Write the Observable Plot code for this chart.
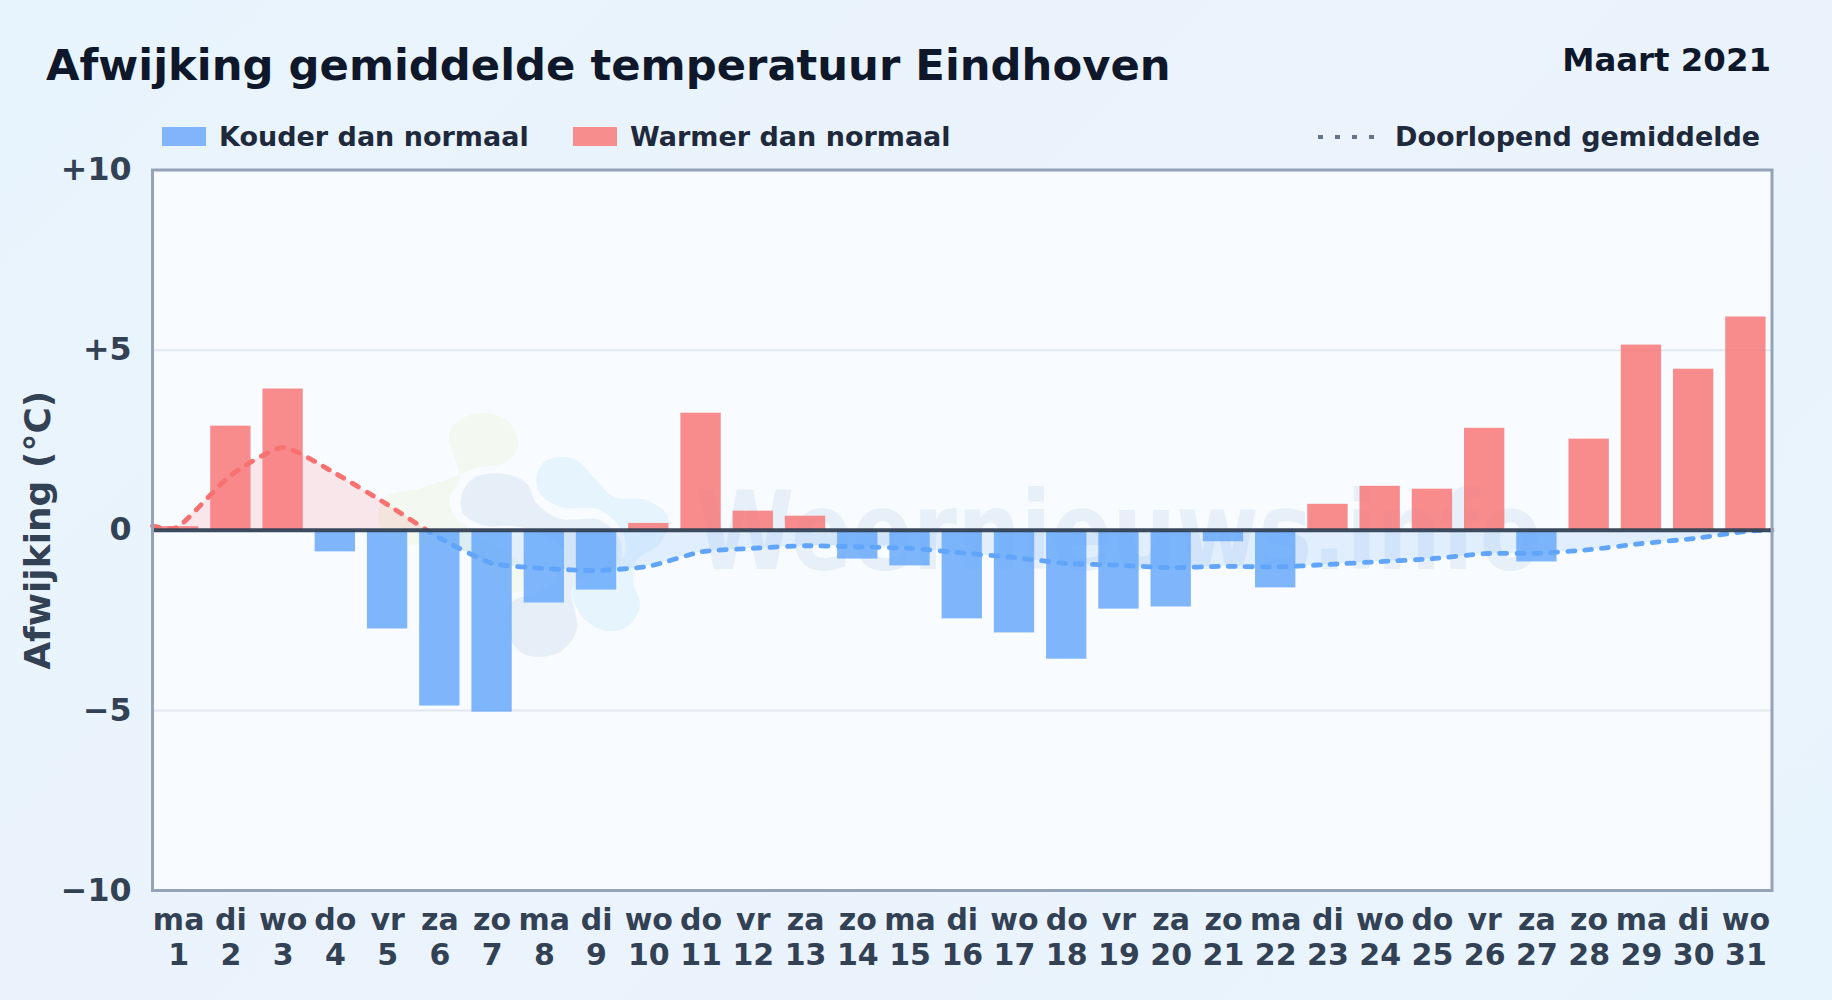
<!DOCTYPE html>
<html lang="nl">
<head>
<meta charset="utf-8">
<title>Afwijking gemiddelde temperatuur Eindhoven</title>
<script src="https://cdn.jsdelivr.net/npm/d3@7"></script>
<script src="https://cdn.jsdelivr.net/npm/@observablehq/plot@0.6"></script>
<style>
html,body{margin:0;padding:0}
body{width:1832px;height:1000px;overflow:hidden;font-family:"DejaVu Sans",sans-serif;font-weight:700;
background:linear-gradient(135deg,#e8f4fd 0%,#ebf3fc 50%,#e8f4fd 100%)}
#head{position:relative;height:150px}
#head>*{position:absolute;white-space:nowrap}
#title{left:46px;top:38px;font-size:43.3px;line-height:54px;color:#0f172a}
#date{right:61px;top:41px;font-size:32.4px;line-height:38px;color:#0f172a}
.lg{font-size:27px;line-height:32px;top:121px;color:#1e293b}
.sw{top:127px;height:19px;width:44px}
svg.plot{display:block}
</style>
</head>
<body>
<div id="head">
  <div id="title">Afwijking gemiddelde temperatuur Eindhoven</div>
  <div id="date">Maart 2021</div>
  <div class="sw" style="left:162px;background:#80b5fb"></div>
  <div class="lg" style="left:219px">Kouder dan normaal</div>
  <div class="sw" style="left:573px;background:#f88d8e"></div>
  <div class="lg" style="left:630px">Warmer dan normaal</div>
  <svg style="left:1316px;top:134px" width="60" height="6"><line x1="2" x2="60" y1="3" y2="3" stroke="#64748b" stroke-width="4" stroke-dasharray="5 12"/></svg>
  <div class="lg" style="left:1395px">Doorlopend gemiddelde</div>
</div>
<div id="chart"></div>
<script>
const days = d3.range(1, 32);
const weekdays = ["ma","di","wo","do","vr","za","zo","ma","di","wo","do","vr","za","zo","ma","di","wo","do","vr","za","zo","ma","di","wo","do","vr","za","zo","ma","di","wo"];
const deviation = [0.1,2.89,3.92,-0.6,-2.74,-4.88,-5.05,-2.02,-1.66,0.19,3.25,0.53,0.39,-0.8,-0.99,-2.46,-2.85,-3.58,-2.19,-2.13,-0.32,-1.6,0.72,1.22,1.14,2.83,-0.88,2.53,5.14,4.47,5.92];
const runningDays = [0.5,...days,31.5];
const runningMean = [0.12,0.1,1.53,2.3,1.58,0.71,-0.22,-0.92,-1.06,-1.12,-1.0,-0.6,-0.5,-0.43,-0.46,-0.5,-0.63,-0.76,-0.92,-0.97,-1.04,-1.0,-1.02,-0.95,-0.87,-0.79,-0.65,-0.64,-0.54,-0.37,-0.23,-0.03,0.0];
const yTicks = [-10,-5,0,5,10];
const yLabels = ["\u221210","\u22125","0","+5","+10"];
const gridLines = [-5,5];
const yTitle = ["Afwijking (\u00b0C)"];
const wmark = [{x:19.0,y:-1.1,t:"Weernieuws.info"}];
const blobGreen = [[6.19,2.78],[6.70,3.24],[7.28,3.06],[7.50,2.41],[7.28,1.90],[6.64,1.71],[6.19,1.44],[5.62,1.16],[4.98,0.93],[4.82,0.28],[5.10,-0.28],[6.06,-0.46],[6.64,-0.74],[7.28,-1.67],[7.59,-1.67],[7.53,-0.93],[6.70,-0.09],[6.25,0.46],[6.19,0.93],[6.38,1.39]];
const blobSlate = [[6.41,0.93],[6.64,1.44],[7.21,1.57],[7.66,1.30],[7.85,0.74],[8.30,0.32],[9.06,0.28],[9.45,-0.28],[9.38,-1.11],[8.55,-1.57],[8.62,-2.78],[8.23,-3.43],[7.60,-3.43],[7.28,-2.78],[7.34,-2.04],[8.04,-1.57],[8.36,-0.55],[7.53,0.09],[6.83,0.14],[6.45,0.46]];
const blobSky = [[7.85,1.48],[8.04,1.94],[8.55,1.99],[8.94,1.48],[9.32,0.93],[9.96,0.83],[10.37,0.37],[10.21,-0.37],[9.77,-0.83],[9.70,-1.39],[9.83,-2.13],[9.57,-2.69],[9.13,-2.78],[8.68,-2.31],[8.55,-1.57],[9.51,-0.74],[9.51,-0.09],[9.06,0.56],[8.30,0.65],[7.92,1.02]];

const barData = days.map((d,i)=>({day:d,v:deviation[i]}));
const lineData = runningDays.map((d,i)=>({day:d,v:runningMean[i]}));
const halfBar = 0.386;
const BLUE="#60a5fa", RED="#f87171";
const smooth = {curve:"cardinal",tension:0.45};

let clipN = 0;
function side(sign){
  return function(index, scales, values, dims, ctx, next){
    const g = next(index, scales, values, dims, ctx);
    const id = "side-clip-" + (++clipN);
    const ns = "http://www.w3.org/2000/svg";
    const cp = document.createElementNS(ns,"clipPath"); cp.setAttribute("id",id);
    const r = document.createElementNS(ns,"rect");
    const y0 = scales.y(0);
    r.setAttribute("x",0); r.setAttribute("width",dims.width);
    r.setAttribute("y", sign>0 ? 0 : y0);
    r.setAttribute("height", sign>0 ? y0 : dims.height-y0);
    cp.appendChild(r); g.appendChild(cp);
    const wrap = document.createElementNS(ns,"g");
    wrap.setAttribute("clip-path",`url(#${id})`);
    while (g.firstChild && g.firstChild!==cp) wrap.appendChild(g.firstChild);
    g.appendChild(wrap);
    return g;
  };
}
function squeeze(index, scales, values, dims, ctx, next){
  const g = next(index, scales, values, dims, ctx);
  g.style.transformBox = "fill-box";
  g.style.transformOrigin = "center";
  g.style.transform = "scaleX(0.83)";
  return g;
}
const blob = (pts,fill)=>Plot.line(pts,{x:d=>d[0],y:d=>d[1],fill,stroke:"none",curve:"catmull-rom-closed"});

const chart = Plot.plot({
  width:1832, height:850,
  marginLeft:152, marginRight:60.5, marginTop:19.5, marginBottom:110,
  style:{fontFamily:"'DejaVu Sans',sans-serif",background:"transparent",overflow:"visible"},
  x:{type:"linear",domain:[0.5,31.5]},
  y:{domain:[-10,10]},
  marks:[
    Plot.frame({fill:"#f8fbff",stroke:"none"}),
    Plot.ruleY(gridLines,{stroke:"#e2e8f0",strokeWidth:2}),
    blob(blobGreen,"#f3f9f0"),
    blob(blobSlate,"#e6eff8"),
    blob(blobSky,"#e6f4fe"),
    Plot.text(wmark,{x:"x",y:"y",text:"t",fontSize:108,fontWeight:700,fill:"#2b6cb0",fillOpacity:0.08,textAnchor:"middle",lineAnchor:"bottom",render:squeeze}),
    Plot.areaY(lineData,{x:"day",y1:0,y2:"v",...smooth,fill:RED,fillOpacity:0.15,render:side(1)}),
    Plot.areaY(lineData,{x:"day",y1:0,y2:"v",...smooth,fill:BLUE,fillOpacity:0.15,render:side(-1)}),
    Plot.rectY(barData,{x1:d=>d.day-halfBar,x2:d=>d.day+halfBar,y1:0,y2:"v",fill:d=>d.v<0?BLUE:RED,fillOpacity:0.8}),
    Plot.line(lineData,{x:"day",y:"v",...smooth,stroke:RED,strokeWidth:4.8,strokeDasharray:"7 10",strokeLinecap:"round",render:side(1)}),
    Plot.line(lineData,{x:"day",y:"v",...smooth,stroke:BLUE,strokeWidth:4.8,strokeDasharray:"7 10",strokeLinecap:"round",render:side(-1)}),
    Plot.ruleY([0],{stroke:"#334155",strokeWidth:4,strokeOpacity:0.95}),
    Plot.frame({stroke:"#94a3b8",strokeWidth:3}),
    Plot.axisY({ticks:yTicks,tickSize:0,tickPadding:21,tickFormat:d=>yLabels[yTicks.indexOf(d)],fontSize:31.7,fontWeight:700,fill:"#334155",textOverflow:null,label:null}),
    Plot.text(yTitle,{frameAnchor:"left",textAnchor:"middle",rotate:-90,dx:-114,fontSize:36,fontWeight:700,fill:"#334155"}),
    Plot.axisX({ticks:days,tickSize:0,tickPadding:15,tickFormat:d=>weekdays[d-1]+"\n"+d,fontSize:30,fontWeight:700,fill:"#334155",lineHeight:1.16,label:null})
  ]
});
document.getElementById("chart").appendChild(chart);
</script>
</body>
</html>
